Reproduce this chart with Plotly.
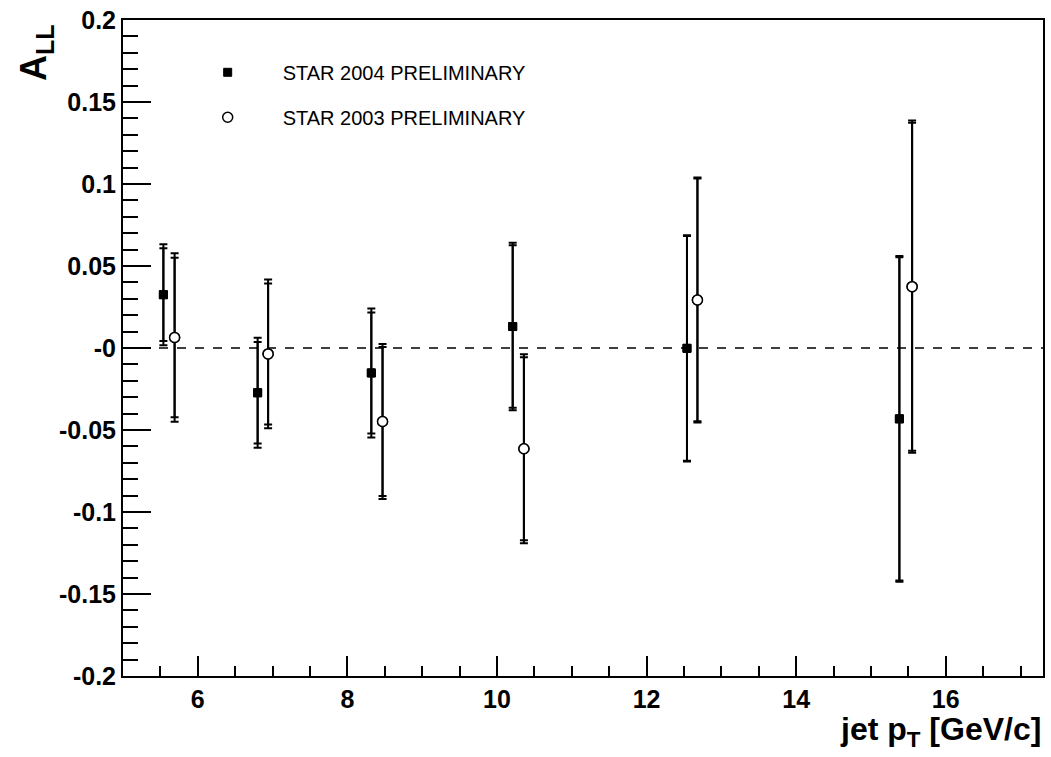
import plotly.graph_objects as go

# STAR 2004 preliminary (filled squares)
x_2004 = [5.54, 6.80, 8.32, 10.21, 12.54, 15.38]
y_2004 = [0.0325, -0.0273, -0.0152, 0.0131, -0.0002, -0.0432]
err_2004_tot = [0.0308, 0.0335, 0.0393, 0.0511, 0.0690, 0.0993]
err_2004_stat = [0.0283, 0.0310, 0.0369, 0.0495, 0.0685, 0.0985]

# STAR 2003 preliminary (open circles)
x_2003 = [5.69, 6.94, 8.47, 10.36, 12.68, 15.55]
y_2003 = [0.0064, -0.0036, -0.0448, -0.0614, 0.0293, 0.0374]
err_2003_tot = [0.0514, 0.0453, 0.0472, 0.0576, 0.0747, 0.1013]
err_2003_stat = [0.0487, 0.0430, 0.0454, 0.0558, 0.0740, 0.1000]

y_tickvals = [0.2, 0.15, 0.1, 0.05, 0.0, -0.05, -0.1, -0.15, -0.2]
y_ticktext = ["0.2", "0.15", "0.1", "0.05", "-0", "-0.05", "-0.1", "-0.15", "-0.2"]
x_tickvals = [6, 8, 10, 12, 14, 16]

label_2004 = "STAR 2004 PRELIMINARY"
label_2003 = "STAR 2003 PRELIMINARY"

fig = go.Figure()

def add_series(x, y, etot, estat, name, marker, group):
    fig.add_trace(go.Scatter(
        x=x, y=y, mode="markers", name=name, legendgroup=group, showlegend=False,
        error_y=dict(type="data", array=estat, visible=True, color="black",
                     thickness=2, width=4),
        marker=marker, hoverinfo="skip"))
    fig.add_trace(go.Scatter(
        x=x, y=y, mode="markers", name=name, legendgroup=group, showlegend=True,
        error_y=dict(type="data", array=etot, visible=True, color="black",
                     thickness=2, width=4),
        marker=marker))

add_series(x_2004, y_2004, err_2004_tot, err_2004_stat, label_2004,
           dict(symbol="square", size=8, color="black", line=dict(color="black", width=1)), "g2004")
add_series(x_2003, y_2003, err_2003_tot, err_2003_stat, label_2003,
           dict(symbol="circle", size=10, color="white", line=dict(color="black", width=1.5)), "g2003")

fig.add_hline(y=0, line=dict(color="black", width=1.5, dash="dash"), layer="below")

bold = dict(family="Liberation Sans, Arial, sans-serif", size=25, color="black", weight="bold")

fig.update_layout(
    width=1051, height=757,
    margin=dict(l=123, r=6, t=16, b=81),
    paper_bgcolor="white", plot_bgcolor="white",
    showlegend=True,
    legend=dict(x=0.054, y=0.95, xanchor="left", yanchor="top",
                bgcolor="rgba(0,0,0,0)", borderwidth=0,
                font=dict(family="Liberation Sans, Arial, sans-serif", size=20, color="black"),
                traceorder="grouped", tracegroupgap=16, itemwidth=100,
                itemclick=False),
    xaxis=dict(range=[5, 17.3], showgrid=False, zeroline=False,
               showline=True, linecolor="black", linewidth=2, mirror=True,
               ticks="inside", ticklen=20, tickwidth=2, tickcolor="black",
               tickvals=x_tickvals, tickfont=bold,
               minor=dict(ticks="inside", ticklen=10, tickwidth=2, tickcolor="black",
                          dtick=0.5, tick0=5, showgrid=False)),
    yaxis=dict(range=[-0.2, 0.2], showgrid=False, zeroline=False,
               showline=True, linecolor="black", linewidth=2, mirror=True,
               ticks="inside", ticklen=28, tickwidth=2, tickcolor="black",
               tickvals=y_tickvals, ticktext=y_ticktext, tickfont=bold,
               minor=dict(ticks="inside", ticklen=15, tickwidth=2, tickcolor="black",
                          dtick=0.01, tick0=0, showgrid=False)),
    annotations=[
        dict(text="A<sub>LL</sub>", textangle=-90, xref="paper", yref="paper",
             x=-0.095, y=1, xanchor="center", yanchor="top", yshift=-2,
             showarrow=False,
             font=dict(family="Liberation Sans, Arial, sans-serif", size=36, color="black", weight="bold")),
        dict(text="jet p<sub>T</sub> [GeV/c]", xref="paper", yref="paper",
             x=1, y=0, xanchor="right", yanchor="top", yshift=-33,
             showarrow=False,
             font=dict(family="Liberation Sans, Arial, sans-serif", size=32, color="black", weight="bold")),
    ],
)

fig.write_html("out.html")
